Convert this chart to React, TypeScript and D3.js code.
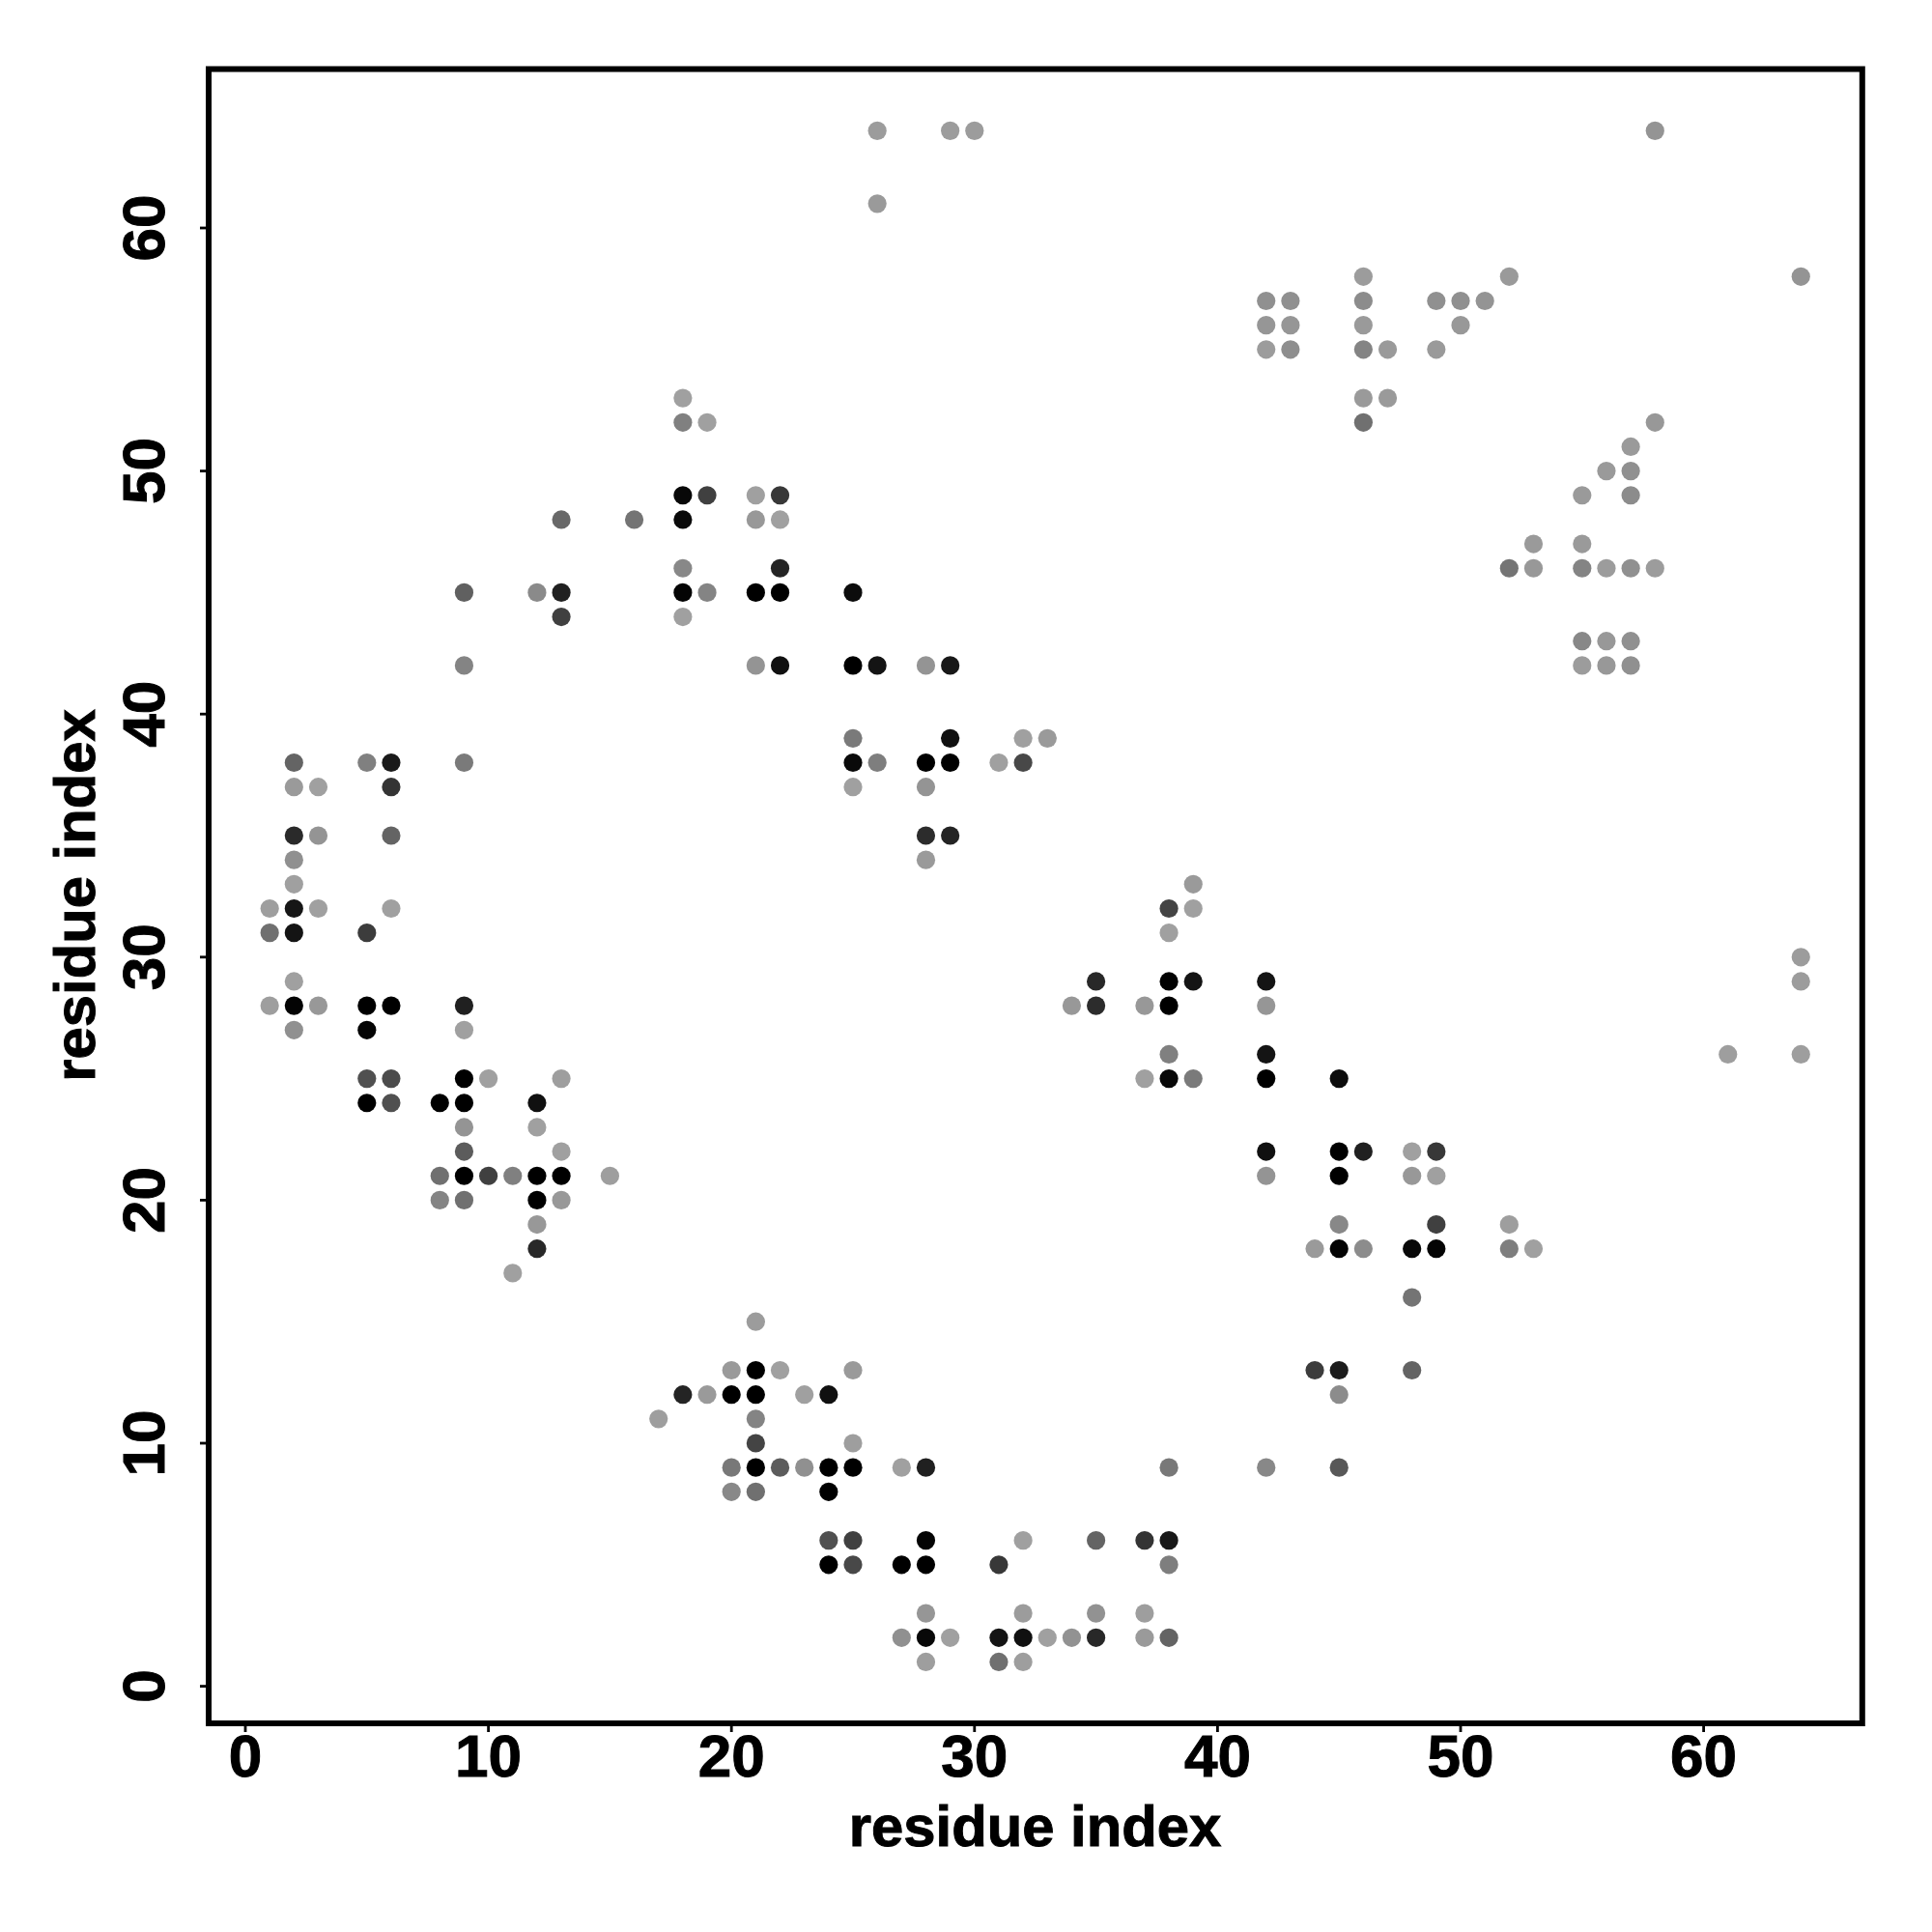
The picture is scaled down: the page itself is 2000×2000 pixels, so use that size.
import React from "react";
import * as d3 from "d3";

type Row = [number, [number, number][]];

const tickValues = [0, 10, 20, 30, 40, 50, 60];
const axisTitle = "residue index";

// Each row: [y residue, [[x residue, grey level], ...]]
const upperRows: Row[] = [
  [64, [[26, 0x9c], [29, 0x9c], [30, 0x9c], [58, 0x94]]],
  [61, [[26, 0x9a]]],
  [58, [[46, 0x9c], [52, 0x9a], [64, 0x94]]],
  [57, [[42, 0x90], [43, 0x90], [46, 0x8c], [49, 0x90], [50, 0x90], [51, 0x94]]],
  [56, [[42, 0x96], [43, 0x96], [46, 0x9a], [50, 0x98]]],
  [55, [[42, 0x9c], [43, 0x8e], [46, 0x84], [47, 0x9a], [49, 0x9a]]],
  [53, [[18, 0xa0], [46, 0x9a], [47, 0x9a]]],
  [52, [[18, 0x80], [19, 0xa0], [46, 0x70], [58, 0x98]]],
  [51, [[57, 0x9a]]],
  [50, [[56, 0x9a], [57, 0x90]]],
  [49, [[18, 0x08], [19, 0x40], [21, 0xa0], [22, 0x38], [55, 0x9a], [57, 0x8c]]],
  [48, [[13, 0x68], [16, 0x74], [18, 0x0a], [21, 0x98], [22, 0xa0]]],
  [47, [[53, 0x9a], [55, 0x9a]]],
  [46, [[18, 0x88], [22, 0x24], [52, 0x74], [53, 0x98], [55, 0x84], [56, 0x9c], [57, 0x90], [58, 0x9c]]],
  [45, [[9, 0x60], [12, 0x8a], [13, 0x20], [18, 0x04], [19, 0x84], [21, 0x00], [22, 0x00], [25, 0x0c]]],
  [44, [[13, 0x40], [18, 0xa0]]],
  [43, [[55, 0x88], [56, 0x98], [57, 0x90]]],
  [42, [[9, 0x84], [21, 0x94], [22, 0x10], [25, 0x00], [26, 0x14], [28, 0x94], [29, 0x18], [55, 0x9c], [56, 0x98], [57, 0x90]]],
];

const middleRows: Row[] = [
  [39, [[25, 0x7a], [29, 0x10], [32, 0xa0], [33, 0x9a]]],
  [38, [[2, 0x64], [5, 0x80], [6, 0x1a], [9, 0x7a], [25, 0x0a], [26, 0x7e], [28, 0x00], [29, 0x00], [31, 0xa0], [32, 0x48]]],
  [37, [[2, 0x9a], [3, 0xa0], [6, 0x34], [25, 0xa0], [28, 0x94]]],
  [35, [[2, 0x2a], [3, 0x94], [6, 0x64], [28, 0x2c], [29, 0x24]]],
  [34, [[2, 0x90], [28, 0x9a]]],
  [33, [[2, 0xa0], [39, 0x9a]]],
  [32, [[1, 0x9e], [2, 0x16], [3, 0xa0], [6, 0xa0], [38, 0x44], [39, 0xa0]]],
  [31, [[1, 0x70], [2, 0x14], [5, 0x3c], [38, 0xa0]]],
  [30, [[64, 0x9c]]],
  [29, [[2, 0xa0], [35, 0x28], [38, 0x02], [39, 0x14], [42, 0x14], [64, 0x9c]]],
  [28, [[1, 0x9e], [2, 0x04], [3, 0x98], [5, 0x00], [6, 0x00], [9, 0x20], [34, 0x98], [35, 0x2c], [37, 0x98], [38, 0x00], [42, 0x96]]],
  [27, [[2, 0x90], [5, 0x04], [9, 0xa0]]],
  [26, [[38, 0x80], [42, 0x14], [61, 0x9e], [64, 0x9e]]],
  [25, [[5, 0x50], [6, 0x4c], [9, 0x00], [10, 0xa0], [13, 0x9e], [37, 0xa0], [38, 0x08], [39, 0x7a], [42, 0x00], [45, 0x0c]]],
  [24, [[5, 0x00], [6, 0x50], [8, 0x00], [9, 0x00], [12, 0x10]]],
  [23, [[9, 0x94], [12, 0xa0]]],
  [22, [[9, 0x5c], [13, 0xa0], [42, 0x10], [45, 0x00], [46, 0x20], [48, 0xa0], [49, 0x38]]],
  [21, [[8, 0x70], [9, 0x00], [10, 0x40], [11, 0x80], [12, 0x00], [13, 0x00], [15, 0x9e], [42, 0x94], [45, 0x00], [48, 0x98], [49, 0xa0]]],
];

const lowerRows: Row[] = [
  [20, [[8, 0x84], [9, 0x70], [12, 0x00], [13, 0x98]]],
  [19, [[12, 0x98], [45, 0x88], [49, 0x40], [52, 0x9e]]],
  [18, [[12, 0x28], [44, 0x9a], [45, 0x04], [46, 0x8c], [48, 0x08], [49, 0x04], [52, 0x7e], [53, 0xa0]]],
  [17, [[11, 0xa0]]],
  [16, [[48, 0x74]]],
  [15, [[21, 0x9c]]],
  [13, [[20, 0x9a], [21, 0x00], [22, 0xa0], [25, 0x9a], [44, 0x3c], [45, 0x1c], [48, 0x64]]],
  [12, [[18, 0x24], [19, 0x9a], [20, 0x00], [21, 0x00], [23, 0xa0], [24, 0x10], [45, 0x8c]]],
  [11, [[17, 0x9e], [21, 0x84]]],
  [10, [[21, 0x44], [25, 0x9e]]],
  [9, [[20, 0x78], [21, 0x00], [22, 0x5c], [23, 0x90], [24, 0x00], [25, 0x00], [27, 0xa0], [28, 0x20], [38, 0x78], [42, 0x88], [45, 0x58]]],
  [8, [[20, 0x88], [21, 0x70], [24, 0x00]]],
  [6, [[24, 0x50], [25, 0x40], [28, 0x04], [32, 0xa0], [35, 0x64], [37, 0x34], [38, 0x18]]],
  [5, [[24, 0x00], [25, 0x48], [27, 0x00], [28, 0x00], [31, 0x38], [38, 0x7e]]],
  [3, [[28, 0x96], [32, 0x9c], [35, 0x92], [37, 0x9e]]],
  [2, [[27, 0x90], [28, 0x08], [29, 0xa0], [31, 0x14], [32, 0x10], [33, 0xa0], [34, 0x92], [35, 0x28], [37, 0x9a], [38, 0x64]]],
  [1, [[28, 0x9e], [31, 0x70], [32, 0x9e]]],
];

const xScale = d3.scaleLinear().domain([0, 60]).range([254, 1763.6]);
const yScale = d3.scaleLinear().domain([0, 60]).range([1745.6, 236]);
const [frameLeft, frameRight] = [216, 1927.8];
const [frameTop, frameBottom] = [71.5, 1784];
const FONT = "'Liberation Sans', Arial, sans-serif";
const heavy = { stroke: "#000", strokeWidth: 1 };

export default function App() {
  const points = [...upperRows, ...middleRows, ...lowerRows].flatMap(([y, cells]) =>
    cells.map(([x, g]) => ({ x, y, g }))
  );
  return (
    <svg
      width={2000}
      height={2000}
      viewBox="0 0 2000 2000"
      style={{ position: "absolute", left: 0, top: 0, background: "#fff" }}
    >
      {points.map((p) => (
        <circle
          key={`${p.x}-${p.y}`}
          cx={xScale(p.x)}
          cy={yScale(p.y)}
          r={9.6}
          fill={d3.rgb(p.g, p.g, p.g).formatHex()}
        />
      ))}
      <rect
        x={frameLeft}
        y={frameTop}
        width={frameRight - frameLeft}
        height={frameBottom - frameTop}
        fill="none"
        stroke="#000"
        strokeWidth={6}
      />
      {tickValues.map((t) => (
        <g key={`x${t}`}>
          <line x1={xScale(t)} x2={xScale(t)} y1={frameBottom} y2={frameBottom + 9} stroke="#000" strokeWidth={2.8} />
          <text x={xScale(t)} y={1839} textAnchor="middle" fontFamily={FONT} fontWeight="bold" fontSize={62} fill="#000" {...heavy}>
            {t}
          </text>
        </g>
      ))}
      {tickValues.map((t) => (
        <g key={`y${t}`}>
          <line x1={frameLeft} x2={frameLeft - 9} y1={yScale(t)} y2={yScale(t)} stroke="#000" strokeWidth={2.8} />
          <text
            transform={`translate(170,${yScale(t)}) rotate(-90)`}
            textAnchor="middle"
            fontFamily={FONT}
            fontWeight="bold"
            fontSize={62}
            fill="#000"
            {...heavy}
          >
            {t}
          </text>
        </g>
      ))}
      <text x={1071.5} y={1911} textAnchor="middle" fontFamily={FONT} fontWeight="bold" fontSize={59.8} fill="#000" {...heavy}>
        {axisTitle}
      </text>
      <text
        transform="translate(98,927) rotate(-90)"
        textAnchor="middle"
        fontFamily={FONT}
        fontWeight="bold"
        fontSize={59.8}
        fill="#000"
        {...heavy}
      >
        {axisTitle}
      </text>
    </svg>
  );
}
